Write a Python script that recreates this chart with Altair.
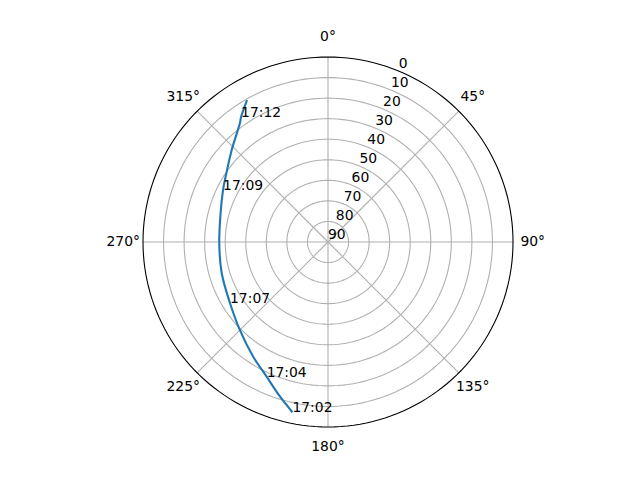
import altair as alt
import pandas as pd

# Satellite pass (azimuth in degrees clockwise from north, elevation in degrees)
azimuth = [191.8, 197.2, 204.5, 213.1, 225.0, 238.0, 253.6, 269.3, 285.0, 296.4, 301.0, 313.7, 323.4, 325.2, 330.3]
elevation = [5.4, 11.2, 18.0, 23.4, 29.4, 33.8, 36.1, 37.1, 35.9, 33.0, 31.5, 25.2, 18.1, 15.9, 10.5]
time_labels = ["17:02", "", "17:04", "", "", "17:07", "", "", "", "17:09", "", "", "", "17:12", ""]

# Polar axis definitions
radial_ticks = [0, 10, 20, 30, 40, 50, 60, 70, 80, 90]
ring_ticks = [10, 20, 30, 40, 50, 60, 70, 80]
spoke_angles = [0, 45, 90, 135, 180, 225, 270, 315]
angle_text = ["0°", "45°", "90°", "135°", "180°", "225°", "270°", "315°"]

FONT = "DejaVu Sans"
FS = 13.9

xs = alt.Scale(domain=[-90, 90])
ys = alt.Scale(domain=[-90, 90])

def X(f):
    return alt.X(f, type="quantitative", scale=xs, axis=None)

def Y(f):
    return alt.Y(f, type="quantitative", scale=ys, axis=None)

pass_df = pd.DataFrame({
    "i": list(range(len(azimuth))),
    "az": azimuth,
    "el": elevation,
    "label": time_labels,
})

polar = dict(
    x="(90 - datum.el) * sin(datum.az * PI / 180)",
    y="(90 - datum.el) * cos(datum.az * PI / 180)",
)

rings = alt.Chart(pd.DataFrame({"el": ring_ticks})).transform_calculate(
    az="sequence(0, 362, 2)"
).transform_flatten(["az"]).transform_calculate(**polar).mark_line(
    color="#b0b0b0", strokeWidth=1.1
).encode(x=X("x"), y=Y("y"), detail="el:N", order="az:Q")

spokes = alt.Chart(pd.DataFrame({"az": spoke_angles})).transform_calculate(
    x0="0", y0="0",
    x1="90 * sin(datum.az * PI / 180)",
    y1="90 * cos(datum.az * PI / 180)",
).mark_rule(color="#b0b0b0", strokeWidth=1.1).encode(
    x=X("x0"), y=Y("y0"), x2="x1:Q", y2="y1:Q"
)

spine = alt.Chart(pd.DataFrame({"el": [0]})).transform_calculate(
    az="sequence(0, 362, 2)"
).transform_flatten(["az"]).transform_calculate(**polar).mark_line(
    color="black", strokeWidth=1.1
).encode(x=X("x"), y=Y("y"), order="az:Q")

angle_lbl = alt.Chart(pd.DataFrame({"az": spoke_angles, "t": angle_text})).transform_calculate(
    x="99.6 * sin(datum.az * PI / 180)",
    y="99.6 * cos(datum.az * PI / 180)",
).mark_text(font=FONT, fontSize=FS, color="black", align="center", baseline="middle").encode(
    x=X("x"), y=Y("y"), text="t:N"
)

radial_lbl = alt.Chart(pd.DataFrame({"el": radial_ticks})).transform_calculate(
    az="22.5"
).transform_calculate(**polar).mark_text(
    font=FONT, fontSize=FS, color="black", align="left", baseline="bottom"
).encode(x=X("x"), y=Y("y"), text="el:Q")

track = alt.Chart(pass_df).transform_calculate(**polar).mark_line(
    color="#1f77b4", strokeWidth=2.1, interpolate="catmull-rom"
).encode(x=X("x"), y=Y("y"), order="i:Q")

track_lbl = alt.Chart(pass_df).transform_filter("datum.label != ''").transform_calculate(**polar).mark_text(
    font=FONT, fontSize=FS, color="black", align="left", baseline="alphabetic"
).encode(x=X("x"), y=Y("y"), text="label:N")

chart = alt.layer(spokes, rings, spine, angle_lbl, radial_lbl, track, track_lbl).properties(
    width=370, height=370,
    autosize=alt.AutoSizeParams(type="none"),
    padding={"left": 135, "top": 49, "right": 119, "bottom": 45},
    background="white",
).configure_view(stroke=None)

chart.save("out.html", embed_options={"renderer": "svg", "actions": False})
